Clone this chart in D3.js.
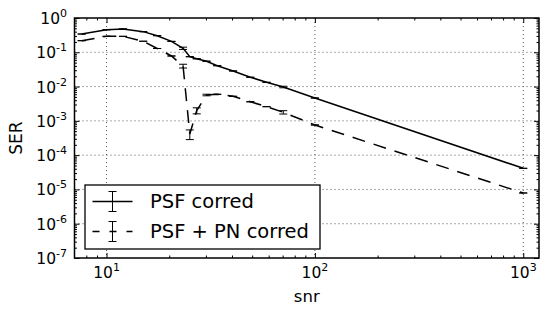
<!DOCTYPE html>
<html>
<head>
	<title>SER - snr</title>
	<meta http-equiv="Content-Type" content="text/html; charset=utf-8" />
	<script type="text/javascript" charset="utf-8" src="https://cdn.jsdelivr.net/npm/d3@7/dist/d3.min.js"></script>
	<style type="text/css">
	body {
		margin: 0px;
		background-color: #fff;
	}
	svg {
		display: block;
		font-family: 'DejaVu Sans', sans-serif;
	}
	</style>
</head>
<body>

<svg width="550" height="316" version="1.1" xmlns="http://www.w3.org/2000/svg"></svg>

<script type="text/javascript">

// snr points shared by both curves
var v_Snr    = [7.6 ,10 ,12 ,15 ,17.5 ,20.5 ,23.3 ,25.1 ,27.1 ,30.2 ,34 ,40.5 ,49 ,58.6 ,70.5 ,100 ,1000];

// PSF corred
var v_SerPsf = [0.341 ,0.456 ,0.478 ,0.40 ,0.305 ,0.208 ,0.131 ,0.0743 ,0.0646 ,0.055 ,0.0406 ,0.0285 ,0.0187 ,0.0133 ,0.00972 ,0.00464 ,4.13e-5];
var v_ErrPsf = [0 ,0 ,0 ,0 ,0 ,0 ,0.01 ,0 ,0 ,0 ,0 ,0 ,0 ,0 ,0.0005 ,0 ,0];

// PSF + PN corred
var v_SerPn  = [0.218 ,0.292 ,0.292 ,0.21 ,0.129 ,0.078 ,0.0398 ,4.14e-4 ,2.0e-3 ,5.68e-3 ,5.95e-3 ,5.2e-3 ,3.6e-3 ,2.59e-3 ,1.78e-3 ,7.57e-4 ,7.87e-6];
var v_ErrPn  = [0 ,0 ,0 ,0 ,0 ,0 ,0.005 ,1.3e-4 ,4e-4 ,3e-4 ,0 ,0 ,0 ,0 ,2e-4 ,0 ,0];

var v_XTicks = [10 ,100 ,1000];
var v_XExp   = ["1" ,"2" ,"3"];
var v_YTicks = [1 ,1e-1 ,1e-2 ,1e-3 ,1e-4 ,1e-5 ,1e-6 ,1e-7];
var v_YExp   = ["0" ,"-1" ,"-2" ,"-3" ,"-4" ,"-5" ,"-6" ,"-7"];

var v_Names  = ["PSF corred" ,"PSF + PN corred"];
var v_Dashes = ["none" ,"13,9"];
var v_LegendDashes = ["none" ,"7,10"];

var m = {left:74.5 ,right:539 ,top:18 ,bottom:258};


var v_SVG = d3.select("body").select("svg");

var v_X = d3.scaleLog().domain([7.02 ,1190]).range([m.left ,m.right]);
var v_Y = d3.scaleLog().domain([1e-7 ,1]).range([m.bottom ,m.top]);

var v_XMinor = v_X.ticks().filter(function(d) { return v_XTicks.indexOf(d) < 0; });
var v_YMinor = v_Y.ticks().filter(function(d) { return Math.abs(Math.log10(d) - Math.round(Math.log10(d))) > 1e-6; });


// dotted grid at the decades
v_SVG.append("g").attr("class" ,"grid")
.selectAll("line").data(v_XTicks).enter()
.append("line")
.attr("x1" ,function(d) { return v_X(d); })
.attr("x2" ,function(d) { return v_X(d); })
.attr("y1" ,m.top)
.attr("y2" ,m.bottom)
.attr("stroke" ,"#555")
.attr("stroke-width" ,1)
.attr("stroke-dasharray" ,"1,3");

v_SVG.append("g").attr("class" ,"grid")
.selectAll("line").data(v_YTicks.slice(1 ,-1)).enter()
.append("line")
.attr("x1" ,m.left)
.attr("x2" ,m.right)
.attr("y1" ,function(d) { return v_Y(d); })
.attr("y2" ,function(d) { return v_Y(d); })
.attr("stroke" ,"#555")
.attr("stroke-width" ,1)
.attr("stroke-dasharray" ,"1,3");


// inward ticks on all four sides
function addTicks(i_Axis ,i_Transform)
{
	var v_G = v_SVG.append("g")
	.attr("transform" ,i_Transform)
	.call(i_Axis);
	v_G.select(".domain").remove();
	v_G.selectAll("text").remove();
	v_G.selectAll("line").attr("stroke" ,"#000").attr("stroke-width" ,1);
}

addTicks(d3.axisBottom(v_X).tickValues(v_XTicks).tickSize(-5) ,"translate(0," + m.bottom + ")");
addTicks(d3.axisBottom(v_X).tickValues(v_XMinor).tickSize(-2.5) ,"translate(0," + m.bottom + ")");
addTicks(d3.axisTop(v_X).tickValues(v_XTicks).tickSize(-5) ,"translate(0," + m.top + ")");
addTicks(d3.axisTop(v_X).tickValues(v_XMinor).tickSize(-2.5) ,"translate(0," + m.top + ")");
addTicks(d3.axisLeft(v_Y).tickValues(v_YTicks).tickSize(-5) ,"translate(" + m.left + ",0)");
addTicks(d3.axisLeft(v_Y).tickValues(v_YMinor).tickSize(-2.5) ,"translate(" + m.left + ",0)");
addTicks(d3.axisRight(v_Y).tickValues(v_YTicks).tickSize(-5) ,"translate(" + m.right + ",0)");
addTicks(d3.axisRight(v_Y).tickValues(v_YMinor).tickSize(-2.5) ,"translate(" + m.right + ",0)");


// tick labels 10^n
var v_XLabels = v_SVG.append("g").selectAll("text").data(v_XTicks).enter()
.append("text")
.attr("x" ,function(d) { return v_X(d); })
.attr("y" ,278)
.attr("text-anchor" ,"middle")
.attr("font-size" ,15.5)
.attr("fill" ,"#000")
.text("10");
v_XLabels.append("tspan")
.attr("dy" ,-7)
.attr("font-size" ,11)
.text(function(d ,i) { return v_XExp[i]; });

var v_YLabels = v_SVG.append("g").selectAll("text").data(v_YTicks).enter()
.append("text")
.attr("x" ,67)
.attr("y" ,function(d) { return v_Y(d) + 6; })
.attr("text-anchor" ,"end")
.attr("font-size" ,15.5)
.attr("fill" ,"#000")
.text("10");
v_YLabels.append("tspan")
.attr("dy" ,-7)
.attr("font-size" ,11)
.text(function(d ,i) { return v_YExp[i]; });

v_SVG.append("text")
.attr("x" ,(m.left + m.right) / 2)
.attr("y" ,302)
.attr("text-anchor" ,"middle")
.attr("font-size" ,16.5)
.text("snr");

v_SVG.append("text")
.attr("transform" ,"translate(22," + ((m.top + m.bottom) / 2) + ") rotate(-90)")
.attr("text-anchor" ,"middle")
.attr("font-size" ,17)
.text("SER");


// the two curves with error bars
var v_Series = [{name:v_Names[0] ,ser:v_SerPsf ,err:v_ErrPsf ,dash:v_Dashes[0] ,legendDash:v_LegendDashes[0]}
               ,{name:v_Names[1] ,ser:v_SerPn  ,err:v_ErrPn  ,dash:v_Dashes[1] ,legendDash:v_LegendDashes[1]}];

var v_Line = d3.line()
.x(function(d) { return v_X(d[0]); })
.y(function(d) { return v_Y(d[1]); });

var v_Cap = 4;

v_Series.forEach(function(s)
{
	var v_Points = v_Snr.map(function(x ,i) { return [x ,s.ser[i] ,s.err[i]]; });
	var v_G = v_SVG.append("g");

	v_G.append("path")
	.attr("d" ,v_Line(v_Points))
	.attr("fill" ,"none")
	.attr("stroke" ,"#000")
	.attr("stroke-width" ,1.5)
	.attr("stroke-dasharray" ,s.dash);

	var v_Bars = v_G.selectAll("g.bar").data(v_Points).enter()
	.append("g").attr("class" ,"bar");

	v_Bars.append("line")
	.attr("x1" ,function(d) { return v_X(d[0]); })
	.attr("x2" ,function(d) { return v_X(d[0]); })
	.attr("y1" ,function(d) { return v_Y(d[1] + d[2]); })
	.attr("y2" ,function(d) { return v_Y(d[1] - d[2]); })
	.attr("stroke" ,"#000")
	.attr("stroke-width" ,1);

	[1 ,-1].forEach(function(k)
	{
		v_Bars.append("line")
		.attr("x1" ,function(d) { return v_X(d[0]) - v_Cap; })
		.attr("x2" ,function(d) { return v_X(d[0]) + v_Cap; })
		.attr("y1" ,function(d) { return v_Y(d[1] + k * d[2]); })
		.attr("y2" ,function(d) { return v_Y(d[1] + k * d[2]); })
		.attr("stroke" ,"#000")
		.attr("stroke-width" ,1);
	});
});


// frame
v_SVG.append("rect")
.attr("x" ,m.left)
.attr("y" ,m.top)
.attr("width" ,m.right - m.left)
.attr("height" ,m.bottom - m.top)
.attr("fill" ,"none")
.attr("stroke" ,"#000")
.attr("stroke-width" ,1.5);


// legend
var v_Legend = v_SVG.append("g");

v_Legend.append("rect")
.attr("x" ,85)
.attr("y" ,185)
.attr("width" ,235)
.attr("height" ,64)
.attr("fill" ,"#fff")
.attr("stroke" ,"#000")
.attr("stroke-width" ,1.3);

var v_Rows = v_Legend.selectAll("g.row").data(v_Series).enter()
.append("g")
.attr("class" ,"row")
.attr("transform" ,function(d ,i) { return "translate(0," + (201.5 + i * 30) + ")"; });

v_Rows.append("line")
.attr("x1" ,92.5).attr("x2" ,132.5)
.attr("y1" ,0).attr("y2" ,0)
.attr("stroke" ,"#000")
.attr("stroke-width" ,1.5)
.attr("stroke-dasharray" ,function(d) { return d.legendDash; });

v_Rows.append("line")
.attr("x1" ,112.5).attr("x2" ,112.5)
.attr("y1" ,-10).attr("y2" ,10)
.attr("stroke" ,"#000");

[-10 ,10].forEach(function(k)
{
	v_Rows.append("line")
	.attr("x1" ,112.5 - v_Cap).attr("x2" ,112.5 + v_Cap)
	.attr("y1" ,k).attr("y2" ,k)
	.attr("stroke" ,"#000");
});

v_Rows.append("text")
.attr("x" ,150)
.attr("y" ,6.5)
.attr("font-size" ,19.5)
.text(function(d) { return d.name; });

</script>

</body>
</html>
